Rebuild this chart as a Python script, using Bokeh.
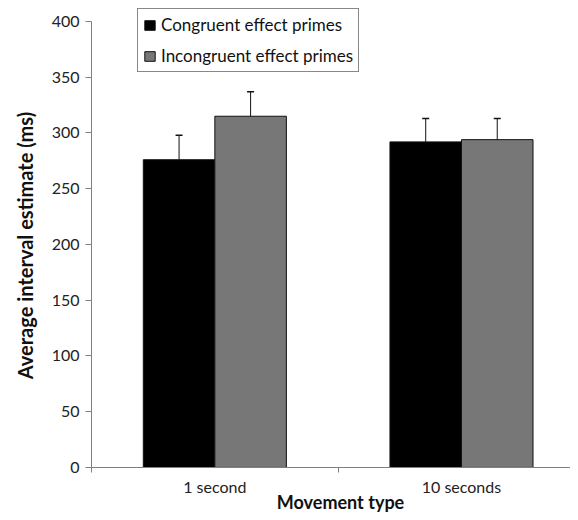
import math
from bokeh.plotting import figure
from bokeh.models import (Range1d, FixedTicker, SingleIntervalTicker, ColumnDataSource,
                          Whisker, TeeHead, Legend, LegendItem, Label, LinearAxis)
from bokeh.embed import file_html
from bokeh.resources import INLINE

categories = ["1 second", "10 seconds"]
congruent = [276, 292]
incongruent = [315, 294]
congruent_err = [22, 21]
incongruent_err = [22, 19]
series_names = ["Congruent effect primes", "Incongruent effect primes"]
x_title = "Movement type"
y_title = "Average interval estimate (ms)"

FONT = "Lato"
centers = [i + 0.5 for i in range(len(categories))]
bw = 0.29
x_con = [c - bw / 2 for c in centers]
x_inc = [c + bw / 2 for c in centers]

src_con = ColumnDataSource(dict(x=x_con, top=congruent,
                                upper=[t + e for t, e in zip(congruent, congruent_err)]))
src_inc = ColumnDataSource(dict(x=x_inc, top=incongruent,
                                upper=[t + e for t, e in zip(incongruent, incongruent_err)]))

p = figure(width=570, height=512, output_backend="svg", toolbar_location=None,
           x_range=Range1d(-0.369, 1.942), y_range=Range1d(-40.4, 418.8),
           x_axis_location=None, y_axis_location=None,
           min_border_left=0, min_border_right=0, min_border_top=0,
           min_border_bottom=0)
p.outline_line_color = None
p.xgrid.visible = False
p.ygrid.visible = False
p.background_fill_color = "white"

r1 = p.vbar(x="x", top="top", width=bw, source=src_con, fill_color="black",
            line_color="#111111", line_width=1)
r2 = p.vbar(x="x", top="top", width=bw, source=src_inc, fill_color="#777777",
            line_color="#111111", line_width=1)

for src in (src_con, src_inc):
    w = Whisker(source=src, base="x", lower="top", upper="upper",
                line_color="#111111", line_width=1, lower_head=None,
                upper_head=TeeHead(size=7, line_color="#111111", line_width=1.5))
    p.add_layout(w)

# y axis at x = 0
yax = LinearAxis(fixed_location=0)
yax.ticker = SingleIntervalTicker(interval=50)
yax.bounds = (0, 400)
yax.minor_tick_line_color = None
yax.major_tick_out = 6
yax.major_tick_in = 0
yax.axis_line_color = "#808080"
yax.major_tick_line_color = "#808080"
yax.major_label_text_font = FONT
yax.major_label_text_font_size = "16px"
yax.major_label_text_color = "#222222"
yax.major_label_standoff = 6
p.add_layout(yax, "left")

# x axis at y = 0
xax = LinearAxis(fixed_location=0)
xax.ticker = FixedTicker(ticks=centers, minor_ticks=[0, 1, 2])
xax.bounds = (0, 1.942)
xax.major_label_overrides = {c: cat for c, cat in zip(centers, categories)}
xax.major_tick_out = 0
xax.major_tick_in = 0
xax.minor_tick_out = 5
xax.minor_tick_in = 0
xax.axis_line_color = "#808080"
xax.minor_tick_line_color = "#808080"
xax.major_label_text_font = FONT
xax.major_label_text_font_size = "16px"
xax.major_label_text_color = "#222222"
xax.major_label_standoff = 5
p.add_layout(xax, "below")

xlabel = Label(x=340, y=0, x_units="screen", y_units="screen",
               text=x_title, text_align="center", text_baseline="bottom",
               text_font=FONT, text_font_style="bold", text_font_size="18px",
               text_color="#111111")
p.add_layout(xlabel)

ylabel = Label(x=24, y=267, x_units="screen", y_units="screen", angle=math.pi / 2,
               text=y_title, text_align="center", text_baseline="middle",
               text_font=FONT, text_font_style="bold", text_font_size="20px",
               text_color="#111111")
p.add_layout(ylabel)

legend = Legend(items=[LegendItem(label=series_names[0], renderers=[r1]),
                       LegendItem(label=series_names[1], renderers=[r2])],
                location=(137, 440), orientation="vertical")
legend.label_text_font = FONT
legend.label_text_font_size = "17px"
legend.label_text_color = "#111111"
legend.label_height = 20
legend.glyph_width = 13
legend.glyph_height = 12
legend.label_standoff = 5
legend.padding = 5
legend.spacing = 10
legend.border_line_color = "#111111"
legend.border_line_width = 1
legend.background_fill_color = "white"
legend.background_fill_alpha = 1
legend.margin = 0
p.add_layout(legend, "center")

open("out.html", "w").write(file_html(p, INLINE))
